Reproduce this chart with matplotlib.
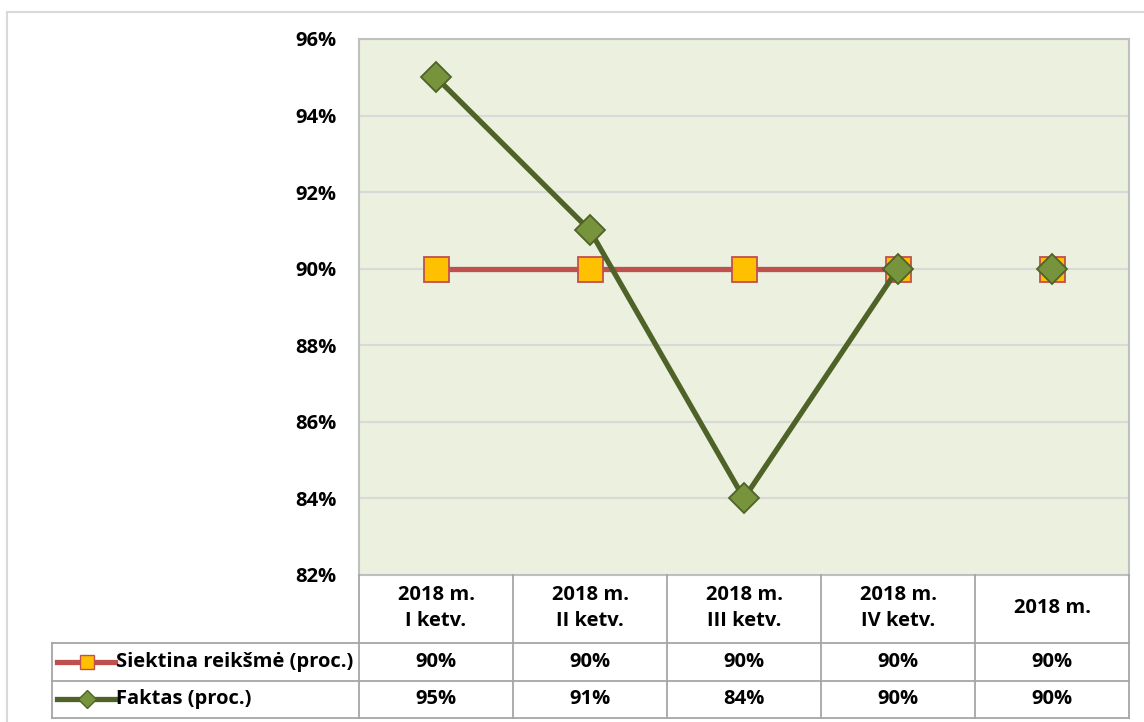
import matplotlib
matplotlib.use("Agg")
import matplotlib.pyplot as plt
from matplotlib.lines import Line2D
from matplotlib.ticker import FuncFormatter
import matplotlib.transforms as mtrans

plt.rcParams['font.family'] = ['Open Sans', 'DejaVu Sans']

categories = ["2018 m.\nI ketv.", "2018 m.\nII ketv.", "2018 m.\nIII ketv.", "2018 m.\nIV ketv.", "2018 m."]
series_names = ["Siektina reikšmė (proc.)", "Faktas (proc.)"]
target = [90, 90, 90, 90, 90]
actual = [95, 91, 84, 90, 90]
yticks = [82, 84, 86, 88, 90, 92, 94, 96]

W, H = 1144, 722
fig = plt.figure(figsize=(W / 100, H / 100), dpi=100)

def fx(px):
    return px / W

def fy(py):
    return 1 - py / H

fs = 14.5
L, R, T, B = 359, 1129, 39, 575
ax = fig.add_axes([fx(L), fy(B), fx(R) - fx(L), fy(T) - fy(B)])
ax.set_facecolor("#EBF1DE")
ax.set_xlim(-0.5, len(categories) - 0.5)
ax.set_ylim(82, 96)
ax.set_yticks(yticks)
ax.yaxis.set_major_formatter(FuncFormatter(lambda v, p: f"{v:.0f}%"))
ax.tick_params(axis='y', length=0, pad=16, labelsize=fs)
for lab in ax.get_yticklabels():
    lab.set_fontweight('bold')
ax.set_xticks([])
ax.grid(axis='y', color="#D9D9D9", linewidth=1.5)
ax.set_axisbelow(True)
for s in ax.spines.values():
    s.set_color("#BFBFBF")
    s.set_linewidth(1.5)

red_line = "#C0504D"
sq_face = "#FFC000"
green_line = "#4F6228"
dia_face = "#77933C"

x = list(range(len(categories)))
n_line = 4
ax.plot(x[:n_line], target[:n_line], color=red_line, lw=3.8, zorder=3, solid_capstyle='butt')
ax.plot(x, target, ls='none', marker='s', ms=18, mfc=sq_face, mec=red_line, mew=1.3, zorder=4)
ax.plot(x[:n_line], actual[:n_line], color=green_line, lw=3.8, zorder=5, solid_capstyle='butt')
ax.plot(x, actual, ls='none', marker='D', ms=15, mfc=dia_face, mec=green_line, mew=1.3, zorder=6)

# outer chart border (clipped at right/bottom)
border_col = "#D9D9D9"
fig.add_artist(Line2D([fx(7), 1], [fy(12), fy(12)], color=border_col, lw=1.5))
fig.add_artist(Line2D([fx(7), fx(7)], [fy(12), 0], color=border_col, lw=1.5))

# data table
tcol = "#A6A6A6"
tlw = 1.3
blend = mtrans.blended_transform_factory(ax.transData, fig.transFigure)
row_top, row1, row2, row_bot = B, 643, 681, 718
for yy in [row1, row2, row_bot]:
    fig.add_artist(Line2D([fx(52), fx(R)], [fy(yy), fy(yy)], color=tcol, lw=tlw))
fig.add_artist(Line2D([fx(52), fx(52)], [fy(row1), fy(row_bot)], color=tcol, lw=tlw))
for i in range(len(categories) + 1):
    xb = i - 0.5
    fig.add_artist(Line2D([xb, xb], [fy(row_top), fy(row_bot)], color=tcol, lw=tlw, transform=blend))

for i, c in enumerate(categories):
    fig.text(i, fy(608), c, transform=blend, ha='center', va='center', fontsize=fs,
             fontweight='bold', linespacing=1.45)
    fig.text(i, fy(662), f"{target[i]}%", transform=blend, ha='center', va='center',
             fontsize=fs, fontweight='bold')
    fig.text(i, fy(699), f"{actual[i]}%", transform=blend, ha='center', va='center',
             fontsize=fs, fontweight='bold')

# legend keys
keys = [(662, red_line, 's', sq_face, 10), (699, green_line, 'D', dia_face, 9)]
for (yy, lc, mk, mf, ms), name in zip(keys, series_names):
    fig.add_artist(Line2D([fx(57), fx(115)], [fy(yy), fy(yy)], color=lc, lw=3.8))
    fig.add_artist(Line2D([fx(87)], [fy(yy)], ls='none', marker=mk, ms=ms, mfc=mf, mec=lc, mew=1.0))
    fig.text(fx(116), fy(yy), name, ha='left', va='center', fontsize=fs, fontweight='bold')

fig.savefig("out.png", dpi=100, facecolor='white')
